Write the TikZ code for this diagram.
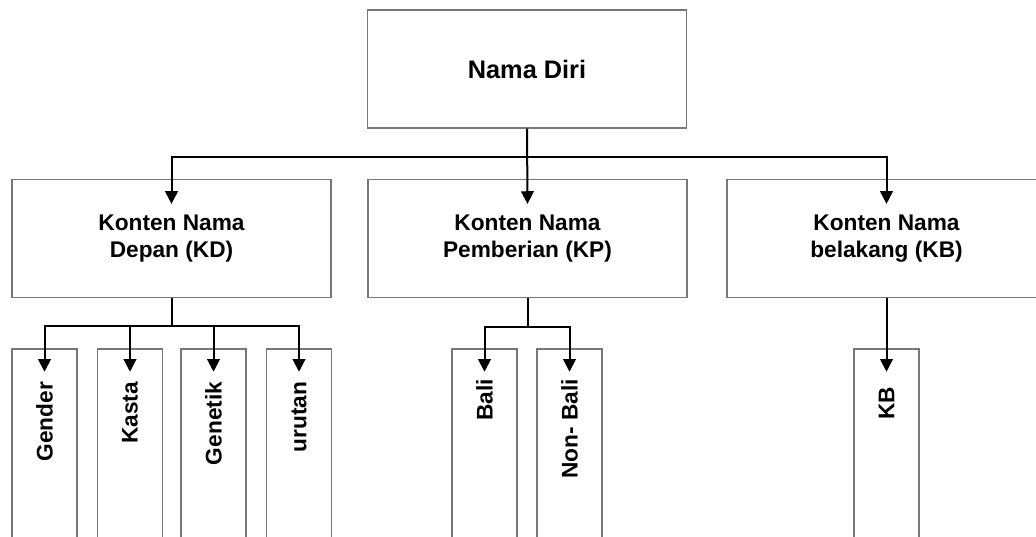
\documentclass[tikz,border=0pt]{standalone}
\usepackage{fontspec}
\setmainfont{Liberation Sans}
\usetikzlibrary{arrows.meta}

\tikzset{every picture/.style={line width=0.75pt}}
\tikzset{
  bigbox/.style={draw={rgb, 255:red, 120; green, 120; blue, 120}, line width=0.9pt, minimum width=239.25pt, minimum height=88.5pt, inner sep=0pt, align=center, font=\bfseries\fontsize{17}{20}\selectfont},
  slimbox/.style={draw={rgb, 255:red, 120; green, 120; blue, 120}, line width=0.9pt, minimum width=48.75pt, minimum height=158.25pt, inner sep=0pt},
  vtext/.style={rotate=90, anchor=east, inner sep=0pt, font=\bfseries\fontsize{17}{20}\selectfont},
  link/.style={draw=black, line width=1.5pt, -{Triangle[width=9.5pt,length=9.5pt]}}
}

\begin{document}
\begin{tikzpicture}[x=0.75pt,y=0.75pt,yscale=-1,xscale=1]
\useasboundingbox (0,0) rectangle (1036,536);
\clip (0,0) rectangle (1036,536);
%Shape: Top box
\node [bigbox, font=\bfseries\fontsize{19}{22}\selectfont] (diri) at (527,69) {Nama Diri};
%Shape: Middle row
\node [bigbox] (kd) at (171.5,238.5) {Konten Nama\\Depan (KD)};
\node [bigbox] (kp) at (527.5,238.5) {Konten Nama\\Pemberian (KP)};
\node [bigbox] (kb) at (886.5,238.5) {Konten Nama\\belakang (KB)};
%Shape: Bottom row
\node [slimbox] (gender) at (44.5,454.5) {};
\node [slimbox] (kasta) at (130,454.5) {};
\node [slimbox] (genetik) at (213.5,454.5) {};
\node [slimbox] (urutan) at (299,454.5) {};
\node [slimbox] (bali) at (484.5,454.5) {};
\node [slimbox] (nonbali) at (569.5,454.5) {};
\node [slimbox] (kbv) at (886.5,454.5) {};

% Text Node
\node [vtext] at ([yshift=24.75pt]gender.north) {Gender};
\node [vtext] at ([yshift=24.75pt]kasta.north) {Kasta};
\node [vtext] at ([yshift=24.75pt]genetik.north) {Genetik};
\node [vtext] at ([yshift=24.75pt]urutan.north) {urutan};
\node [vtext] at ([yshift=22.5pt]bali.north) {Bali};
\node [vtext] at ([yshift=22.5pt]nonbali.north) {Non- Bali};
\node [vtext] at ([yshift=28.5pt]kbv.north) {KB};

%Connectors: top level
\draw [link] (diri.south) -- ++(0,28) -| ([yshift=18.75pt]kd.north);
\draw [link] (diri.south) -- ([yshift=18.75pt]kp.north);
\draw [link] (diri.south) -- ++(0,28) -| ([yshift=18.75pt]kb.north);
%Connectors: KD
\foreach \leaf in {gender,kasta,genetik,urutan}
  \draw [link] (kd.south) -- ++(0,28) -| ([yshift=17.5pt]\leaf.north);
%Connectors: KP
\foreach \leaf in {bali,nonbali}
  \draw [link] (kp.south) -- ++(0,29) -| ([yshift=17.5pt]\leaf.north);
%Connectors: KB
\draw [link] (kb.south) -- ([yshift=17.5pt]kbv.north);

\end{tikzpicture}
\end{document}
